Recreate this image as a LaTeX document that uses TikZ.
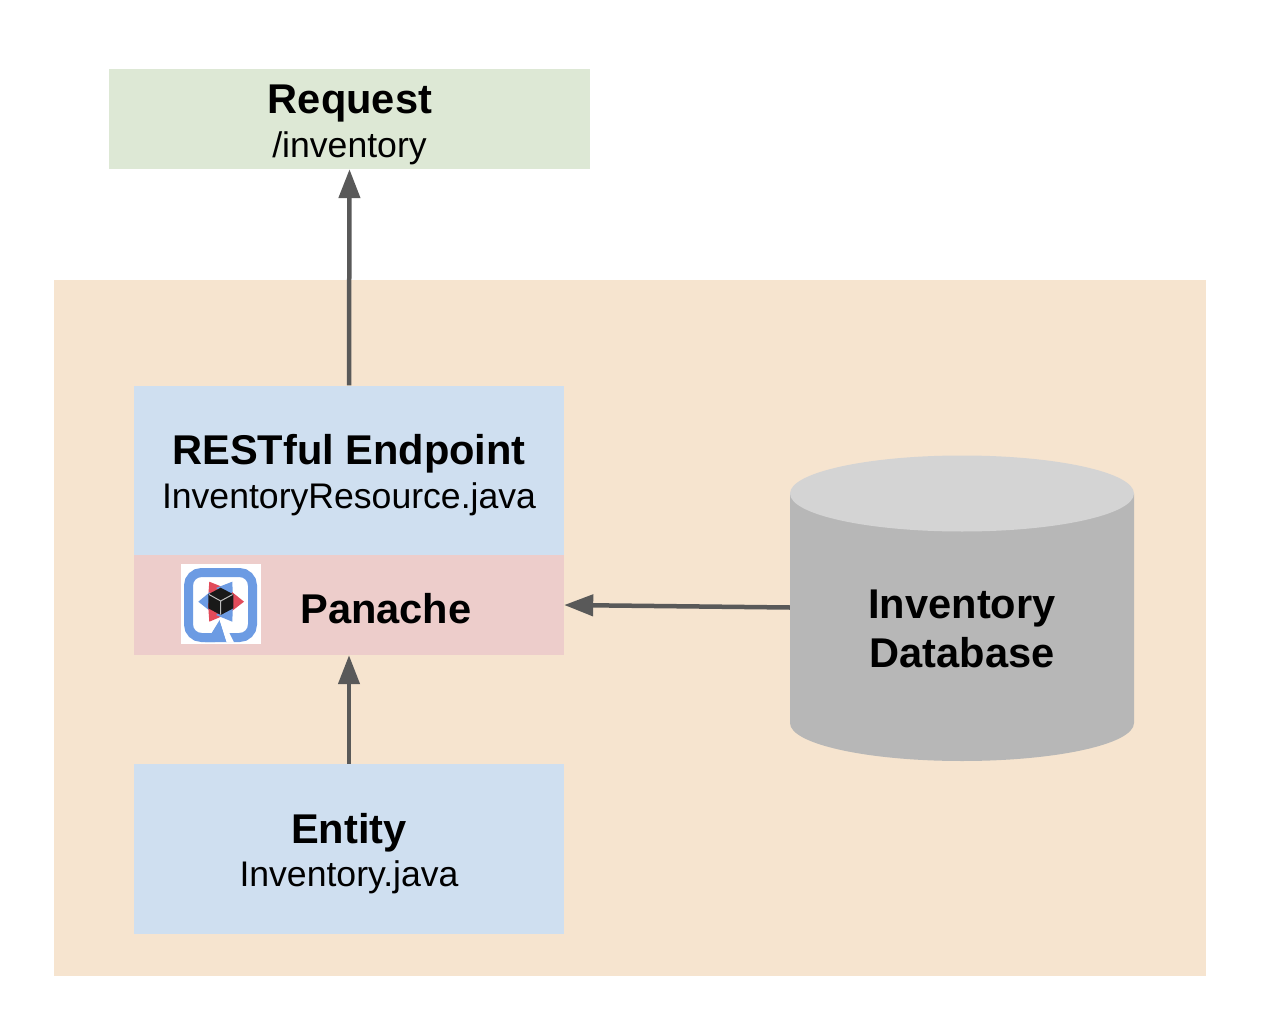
\documentclass[tikz,border=0pt]{standalone}
\usepackage{fontspec}
\setmainfont{Liberation Sans}
\usetikzlibrary{arrows.meta}
\definecolor{reqgreen}{HTML}{DDE8D5}
\definecolor{appbg}{HTML}{F6E4CF}
\definecolor{svcblue}{HTML}{CFDFF0}
\definecolor{panred}{HTML}{EDCDCB}
\definecolor{arrowgray}{HTML}{595959}
\definecolor{dbside}{HTML}{B7B7B7}
\definecolor{dbtop}{HTML}{D4D4D4}
\definecolor{logoblue}{HTML}{6C9BE3}
\definecolor{logored}{HTML}{E24B5A}
\tikzset{
	box/.style={minimum width=430pt, inner sep=0pt, align=center},
	subtitle/.style={inner sep=0pt, font=\fontsize{35.6}{40}\selectfont},
	flow/.style={line width=4.5pt, arrowgray, -{Triangle[length=29pt,width=21pt]}},
	title/.style={inner sep=0pt, align=center, font=\fontsize{41.6}{49}\selectfont\bfseries}
}
\begin{document}
\begin{tikzpicture}[x=1pt,y=-1pt]
	\useasboundingbox (0,0) rectangle (1262,1014);

	% Background
	\fill[appbg] (54,280) rectangle (1206,976);

	% Nodes
	\node[box, fill=reqgreen, minimum width=481pt, minimum height=100pt] (request) at (349.5,119) {};
	\node[box, fill=svcblue, minimum height=170pt] (endpoint) at (349,470.5) {};
	\node[box, fill=panred, minimum height=100pt] (panache) at (349,605) {};
	\node[box, fill=svcblue, minimum height=170pt] (entity) at (349,849) {};
	\node[minimum width=344pt, minimum height=306pt, inner sep=0pt] (database) at (962,608) {};

	% Cylinder
	\fill[dbside] (790,493.5) -- (790,723) arc[start angle=180, end angle=360, x radius=172, y radius=-38]
		-- (1134,493.5) -- cycle;
	\fill[dbtop] (962,493.5) ellipse[x radius=172, y radius=38];

	% Texts
	\node[title] (requestname) at (350,104) {Request};
	\node[subtitle] (requestpath) at (349.5,148) {/inventory};
	\node[title] (endpointname) at (349,454) {RESTful Endpoint};
	\node[subtitle] (endpointfile) at (349,499) {InventoryResource.java};
	\node[title] (panachename) at (386,609) {Panache};
	\node[title] (entityname) at (349,833) {Entity};
	\node[subtitle] (entityfile) at (349,877) {Inventory.java};
	\node[title] (databasename) at (962,629) {Inventory\\Database};

	% Logo
	\node[fill=white, minimum size=80pt, inner sep=0pt] (logo) at (221,604) {};
	\draw[logoblue, line width=9pt, rounded corners=13pt]
		(215,637.5) -- (188.5,637.5) -- (188.5,572.5) -- (252.5,572.5) -- (252.5,637.5) -- (226,637.5);
	\fill[logoblue] (205,642) -- (211.7,633) -- (219.7,620) -- (226.7,642) -- cycle;
	\fill[white] (219.7,620) -- (223,620) -- (234,642.5) -- (226.7,642.5) -- cycle;
	\fill[logored] (209.3,581.7) -- (225,588) -- (208,600) -- cycle;
	\fill[logoblue] (232.3,581.7) -- (216,588) -- (233,600) -- cycle;
	\fill[logored] (244,601.7) -- (232,592) -- (232,611) -- cycle;
	\fill[logoblue] (198.3,601.7) -- (210,592) -- (210,611) -- cycle;
	\fill[logored] (209.3,621.7) -- (208,603) -- (225,615) -- cycle;
	\fill[logoblue] (232.3,621.7) -- (233,603) -- (216,615) -- cycle;
	\fill[black!90] (220.7,587.7) -- (233.3,594.3) -- (233.3,608.3) -- (220.7,615) -- (208.3,608.3) -- (208.3,594.3) -- cycle;
	\draw[black!25, line width=1pt] (209,594.5) -- (220.7,601) -- (232.6,594.5) (220.7,601) -- (220.7,614.5);

	% Directed edges
	\draw[flow] (endpoint.north) -- (request.south);
	\draw[flow] (entity.north) -- (panache.south);
	\draw[flow] (database.west |- 0,607.5) -- (panache.east |- 0,605);
\end{tikzpicture}
\end{document}
